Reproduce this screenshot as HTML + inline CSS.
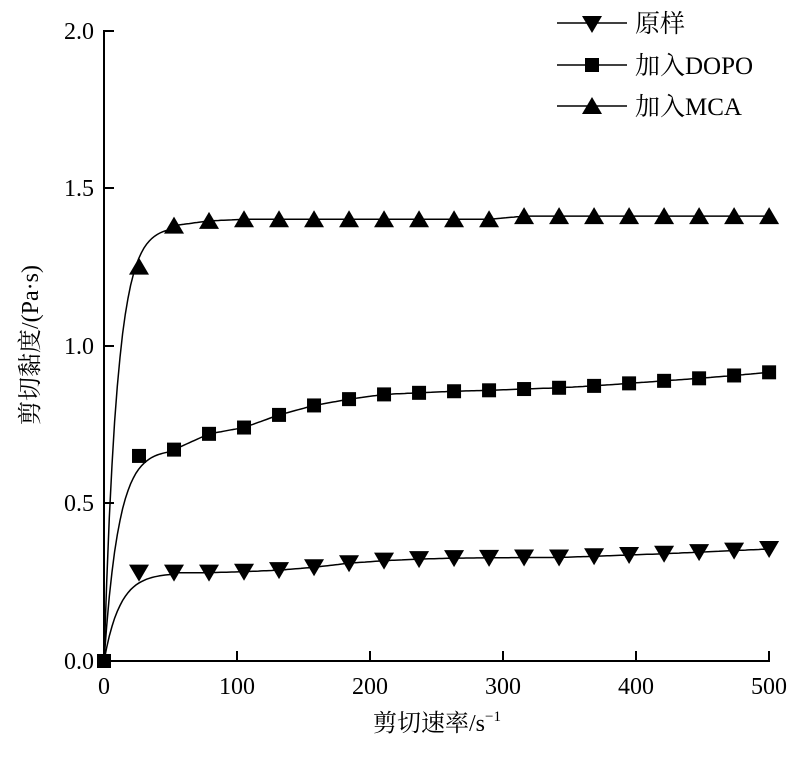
<!DOCTYPE html>
<html><head><meta charset="utf-8"><style>
body{margin:0;background:#fff}
svg text{font-family:"Liberation Serif","Noto Serif CJK SC",serif;fill:#000}
</style></head><body>
<svg id="s" width="800" height="753" xmlns="http://www.w3.org/2000/svg">
<g stroke="#000" stroke-width="2" fill="none">
<line x1="104" y1="30" x2="104" y2="662"/>
<line x1="103" y1="661" x2="770" y2="661"/>
<line x1="237" y1="661" x2="237" y2="651"/>
<line x1="370" y1="661" x2="370" y2="651"/>
<line x1="503" y1="661" x2="503" y2="651"/>
<line x1="636" y1="661" x2="636" y2="651"/>
<line x1="769" y1="661" x2="769" y2="651"/>
<line x1="104" y1="503" x2="114" y2="503"/>
<line x1="104" y1="346" x2="114" y2="346"/>
<line x1="104" y1="188" x2="114" y2="188"/>
<line x1="104" y1="31" x2="114" y2="31"/>
</g>
<g font-size="24" text-anchor="end">
<text x="94" y="669">0.0</text>
<text x="94" y="511">0.5</text>
<text x="94" y="354">1.0</text>
<text x="94" y="196">1.5</text>
<text x="94" y="39">2.0</text>
</g>
<g font-size="24" text-anchor="middle">
<text x="104" y="694">0</text>
<text x="237" y="694">100</text>
<text x="370" y="694">200</text>
<text x="503" y="694">300</text>
<text x="636" y="694">400</text>
<text x="769" y="694">500</text>
</g>
<text x="437" y="731" font-size="24" text-anchor="middle">剪切速率/s<tspan font-size="15" dy="-10">−1</tspan></text>
<text transform="translate(38,345) rotate(-90)" font-size="24" text-anchor="middle">剪切黏度/(Pa·s)</text>
<g id="plot"></g>
<g stroke="#000" stroke-width="1.5">
<line x1="557" y1="23" x2="627" y2="23"/>
<line x1="557" y1="65" x2="627" y2="65"/>
<line x1="557" y1="106" x2="627" y2="106"/>
</g>
<polygon points="582,16 602,16 592,33"/>
<rect x="585" y="58" width="14" height="14"/>
<polygon points="582,114 602,114 592,97"/>
<g font-size="25">
<text x="635" y="32">原样</text>
<text x="635" y="74">加入DOPO</text>
<text x="635" y="115">加入MCA</text>
</g>
</svg>
<script>
var xs=[0,26.3,52.6,78.9,105.2,131.5,157.8,184.1,210.4,236.7,263,289.3,315.6,341.9,368.2,394.5,420.8,447.1,473.4,499.7];
var mca=[0,1.25,1.38,1.395,1.40,1.40,1.40,1.40,1.40,1.40,1.40,1.40,1.41,1.41,1.41,1.41,1.41,1.41,1.41,1.41];
var dopo=[0,0.65,0.67,0.72,0.74,0.78,0.81,0.83,0.845,0.85,0.855,0.858,0.862,0.866,0.872,0.88,0.888,0.896,0.905,0.915];
var org=[0,0.28,0.28,0.28,0.283,0.288,0.297,0.31,0.318,0.323,0.326,0.327,0.328,0.328,0.332,0.336,0.34,0.345,0.35,0.355];
function X(x){return 104+1.331*x}function Y(y){return 661-315.5*y}
var g=document.getElementById('plot'),h='';
function curve(d,tau,c52){var p=[];for(var x=0;x<=500;x+=2){var f;if(x<=52.6){f=c52*(1-Math.exp(-x/tau))/(1-Math.exp(-52.6/tau));}else{for(var i=2;i<xs.length-1&&xs[i+1]<x;i++);var t=(x-xs[i])/(xs[i+1]-xs[i]);f=d[i]+(d[i+1]-d[i])*t;}p.push(X(x).toFixed(1)+','+Y(f).toFixed(1));}
return '<polyline fill="none" stroke="#000" stroke-width="1.5" points="'+p.join(' ')+'"/>';}
h+=curve(mca,10,1.37)+curve(dopo,11,0.665)+curve(org,12,0.275);
for(var i=0;i<xs.length;i++){var x=X(xs[i]);
var y=Y(mca[i]);if(i>0)h+='<polygon points="'+(x-10)+','+(y+8)+' '+(x+10)+','+(y+8)+' '+x+','+(y-9)+'"/>';
y=Y(dopo[i]);h+='<rect x="'+(x-7)+'" y="'+(y-7)+'" width="14" height="14"/>';
y=Y(org[i]);if(i>0)h+='<polygon points="'+(x-10)+','+(y-8)+' '+(x+10)+','+(y-8)+' '+x+','+(y+9)+'"/>';}
g.innerHTML=h;
</script>
</body></html>
